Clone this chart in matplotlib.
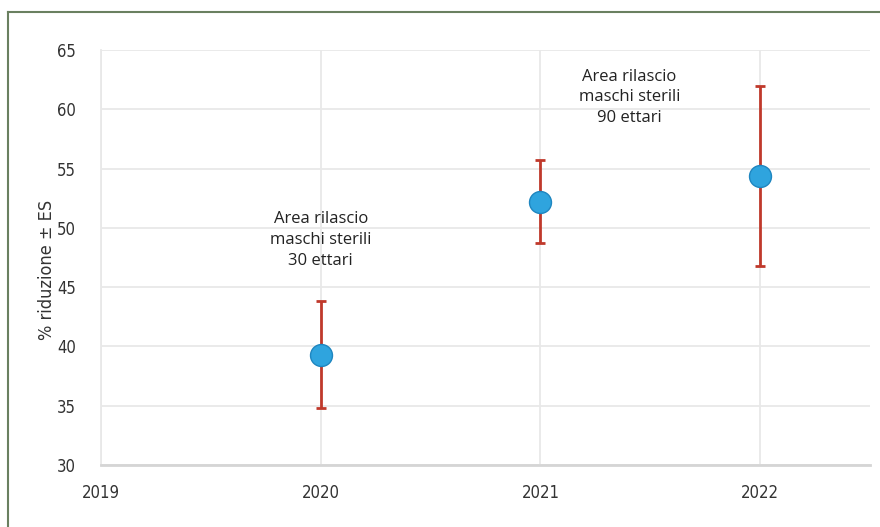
import matplotlib
matplotlib.use('Agg')
import matplotlib.pyplot as plt
from matplotlib.lines import Line2D

# dati
anni = [2020, 2021, 2022]
riduzione = [39.3, 52.2, 54.4]
errore = [4.5, 3.5, 7.6]
y_ticks = [30, 35, 40, 45, 50, 55, 60, 65]
x_ticks = [2019, 2020, 2021, 2022]
note = ['Area rilascio\nmaschi sterili\n30 ettari', 'Area rilascio\nmaschi sterili\n90 ettari']
note_pos = [(2020, 49.0), (2021.405, 61.0)]

fig = plt.figure(figsize=(8.8, 5.27), dpi=100)
ax = fig.add_axes([0.1148, 0.1176, 0.8738, 0.7874])

# griglia
ax.grid(True, color='#e8e8e8', linewidth=1.3)
ax.set_axisbelow(True)

# barre di errore e punti
ax.errorbar(anni, riduzione, yerr=errore, fmt='none', ecolor='#c0392b', elinewidth=2,
            capsize=3.5, capthick=2, zorder=3)
ax.scatter(anni, riduzione, s=250, color='#2fa4de', edgecolor='#1f86c0', linewidth=1, zorder=4)

# note sulle aree di rilascio
for testo, (x, y) in zip(note, note_pos):
    ax.text(x, y, testo, ha='center', va='center', fontsize=12, family='Open Sans',
            color='#222222', linespacing=1.4)

ax.set_xlim(2019, 2022.5)
ax.set_ylim(30, 65)
ax.set_xticks(x_ticks)
ax.set_yticks(y_ticks)
ax.tick_params(axis='y', length=0, labelsize=12, colors='#333333', pad=18)
ax.tick_params(axis='x', length=0, labelsize=12, colors='#333333', pad=14)
for lab in ax.get_xticklabels() + ax.get_yticklabels():
    lab.set_fontstretch('condensed')
ax.set_ylabel('% riduzione ± ES', fontsize=13, fontstretch='condensed', color='#333333')
ax.yaxis.set_label_coords(-0.058, 0.47)

for s in ['top', 'right']:
    ax.spines[s].set_visible(False)
ax.spines['left'].set_color('#e8e8e8')
ax.spines['left'].set_linewidth(1.3)
ax.spines['bottom'].set_color('#d5d5d5')
ax.spines['bottom'].set_linewidth(2)

# cornice verde in alto e a sinistra
fig.add_artist(Line2D([8 / 880, 1], [1 - 12 / 527, 1 - 12 / 527], color='#6a8060', linewidth=1.5))
fig.add_artist(Line2D([8 / 880, 8 / 880], [0, 1 - 12 / 527], color='#6a8060', linewidth=1.5))

fig.savefig('out.png', dpi=100)
